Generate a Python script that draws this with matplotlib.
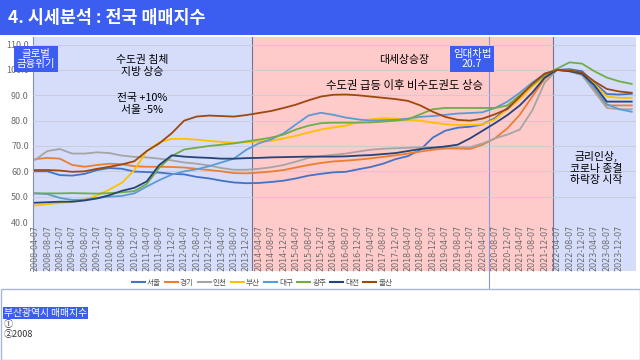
import matplotlib
matplotlib.use('Agg')
import matplotlib.pyplot as plt
from matplotlib.patches import Rectangle
from matplotlib.lines import Line2D
import pandas as pd

plt.rcParams['font.family'] = ['Noto Sans CJK KR', 'DejaVu Sans']

# 4개월 간격 (2008-04-07 ~ 2024-04-07)
dates = pd.date_range('2008-04-01', periods=49, freq='4MS') + pd.Timedelta(days=6)
tick_dates = dates[:48]

seoul = [60.0, 60.0, 58.5, 58.3, 59.0, 60.5, 61.3, 61.0, 59.9, 59.7, 59.5, 59.0, 58.8, 57.8, 57.2, 56.3,
         55.6, 55.3, 55.4, 55.8, 56.3, 57.2, 58.3, 59.0, 59.6, 59.8, 60.8, 61.7, 63.0, 64.8, 66.0, 68.5,
         73.3, 76.0, 77.2, 77.6, 78.5, 81.0, 85.0, 89.0, 94.0, 98.5, 100.0, 100.3, 99.5, 95.0, 90.5, 90.3, 90.6]
gyeonggi = [64.8, 65.3, 65.0, 62.5, 61.8, 62.5, 63.0, 62.8, 62.0, 61.8, 61.8, 61.7, 61.5, 61.0, 60.5, 60.0,
            59.3, 59.2, 59.5, 59.9, 60.5, 61.5, 62.5, 63.3, 63.9, 64.2, 64.6, 65.1, 65.7, 66.3, 67.0, 67.8,
            68.5, 69.0, 69.0, 68.8, 70.5, 73.0, 77.0, 82.3, 89.5, 96.5, 100.0, 99.5, 98.0, 92.0, 86.0, 86.0, 86.0]
incheon = [64.5, 68.0, 68.8, 67.0, 67.0, 67.5, 67.2, 66.2, 65.7, 65.5, 65.0, 64.3, 63.5, 63.0, 62.3, 61.3,
           60.6, 60.6, 61.0, 61.6, 62.5, 63.8, 65.3, 66.0, 66.5, 67.0, 67.8, 68.5, 68.9, 69.1, 69.3, 69.5,
           69.5, 69.5, 69.5, 69.5, 71.0, 73.0, 74.5, 76.5, 84.0, 95.0, 100.0, 99.5, 98.0, 91.5, 85.0, 84.5, 84.5]
busan = [46.5, 47.0, 47.5, 48.0, 48.8, 50.5, 52.8, 55.5, 60.5, 68.0, 71.4, 72.8, 72.8, 72.5, 72.0, 71.6,
         71.3, 71.5, 71.8, 72.0, 73.0, 74.0, 75.3, 76.5, 77.3, 78.0, 79.5, 80.5, 81.0, 80.8, 80.3, 80.0,
         79.2, 78.6, 78.3, 78.3, 78.5, 80.5, 84.5, 88.5, 93.5, 97.5, 100.0, 99.8, 98.8, 94.5, 89.5, 89.0, 89.0]
daegu = [51.3, 51.0, 49.5, 48.7, 48.8, 49.5, 50.0, 50.3, 51.3, 54.0, 56.5, 58.7, 60.0, 60.8, 62.0, 63.5,
         65.0, 68.5, 71.0, 72.6, 75.0, 78.5, 82.0, 83.1, 82.3, 81.2, 80.5, 80.0, 80.2, 80.3, 80.8, 81.5,
         81.8, 82.3, 82.8, 83.0, 83.3, 85.0, 87.5, 91.0, 95.0, 98.5, 100.0, 99.8, 98.5, 93.0, 86.5, 84.5, 83.5]
gwangju = [51.3, 51.3, 51.3, 51.4, 51.3, 51.2, 51.4, 51.7, 52.2, 55.0, 61.4, 66.0, 68.6, 69.3, 70.0, 70.5,
           71.0, 71.8, 72.5, 73.3, 74.5, 76.5, 78.0, 79.0, 79.2, 79.2, 79.2, 79.3, 79.6, 80.0, 80.5, 82.5,
           84.5, 85.0, 85.0, 85.0, 85.0, 85.0, 86.0, 90.0, 94.0, 98.0, 100.5, 103.0, 102.5, 99.5, 97.0, 95.5, 94.5]
daejeon = [47.6, 47.8, 48.0, 48.0, 48.5, 49.3, 50.6, 52.3, 53.5, 56.0, 62.5, 66.3, 65.8, 65.5, 65.3, 65.0,
           65.0, 65.2, 65.3, 65.5, 65.6, 65.7, 65.8, 65.8, 65.8, 65.9, 66.2, 66.4, 66.8, 67.2, 68.0, 68.8,
           69.3, 69.8, 70.5, 73.0, 76.0, 79.0, 82.2, 86.0, 91.0, 97.0, 100.0, 99.5, 98.5, 94.0, 87.5, 87.5, 87.5]
ulsan = [60.5, 60.5, 60.3, 59.8, 60.0, 61.0, 61.8, 62.7, 64.0, 68.0, 71.0, 75.0, 80.0, 81.6, 82.0, 81.8,
         81.6, 82.2, 83.0, 83.8, 85.0, 86.3, 88.0, 89.5, 90.2, 90.3, 90.0, 89.5, 89.0, 88.5, 87.8, 86.0,
         83.5, 81.5, 80.3, 80.0, 80.8, 82.5, 84.6, 89.5, 94.5, 98.5, 100.0, 99.8, 99.0, 95.5, 92.5, 91.5, 91.0]

names = ['서울', '경기', '인천', '부산', '대구', '광주', '대전', '울산']
values = [seoul, gyeonggi, incheon, busan, daegu, gwangju, daejeon, ulsan]
colors = ['#4472C4', '#ED7D31', '#A5A5A5', '#FFC000', '#5B9BD5', '#70AD47', '#264478', '#9E480E']

# 구간 (배경색)
phase_edges = pd.to_datetime(['2008-03-19', '2014-02-04', '2022-02-22', '2024-05-19'])
phase_colors = ['#d5ddfb', '#ffcaca', '#d5ddfb']
law_date = pd.Timestamp('2020-06-13')

BLUE = '#3b5ef0'
W, H = 640, 360

fig = plt.figure(figsize=(6.4, 3.6), dpi=100)
fig.patch.set_facecolor('white')

# 제목 바
fig.patches.append(Rectangle((0, 1 - 35 / H), 1, 35 / H, transform=fig.transFigure,
                             facecolor=BLUE, edgecolor='none'))
fig.text(8 / W, 1 - 18 / H, '4. 시세분석 : 전국 매매지수', color='white', fontsize=12.5,
         fontweight='bold', va='center', ha='left')

# 하단 텍스트 박스
fig.patches.append(Rectangle((0.5 / W, 0.5 / H), (W - 1) / W, (H - 289) / H, transform=fig.transFigure,
                             facecolor='white', edgecolor='#a9b6d8', lw=1))

# 배경
bg = fig.add_axes([33 / W, 1 - 271 / H, 603 / W, 234 / H])
bg.set_xlim(phase_edges[0], phase_edges[-1])
bg.set_ylim(0, 1)
for i in range(3):
    bg.axvspan(phase_edges[i], phase_edges[i + 1], color=phase_colors[i], lw=0)
for d in phase_edges[1:3]:
    bg.axvline(d, color='#6f7396', lw=0.8)
bg.axvline(law_date, ymin=-0.08, ymax=1, color='#8696dc', lw=0.8, clip_on=False)
bg.set_xticks([])
bg.set_yticks([])
for s in ['top', 'right', 'bottom']:
    bg.spines[s].set_visible(False)
bg.spines['left'].set_color('#8a8fb0')
bg.spines['left'].set_linewidth(0.8)

# 본 차트
ax = fig.add_axes([33 / W, 1 - 222 / H, 603 / W, 185 / H], zorder=2)
ax.patch.set_alpha(0)
for n, v, c in zip(names, values, colors):
    ax.plot(dates, v, color=c, lw=1.3, label=n)
ax.set_xlim(phase_edges[0], phase_edges[-1])
ax.set_ylim(40, 113)
ax.set_yticks(range(40, 111, 10))
ax.set_yticklabels(['%.1f' % t for t in range(40, 111, 10)])
ax.set_xticks(tick_dates)
ax.set_xticklabels([d.strftime('%Y-%m-%d') for d in tick_dates], rotation=90, fontsize=5.8,
                   color='#6b6b6b', family='DejaVu Sans')
ax.tick_params(axis='y', labelsize=6.5, labelcolor='#6b6b6b', length=0, pad=3)
ax.tick_params(axis='x', length=0, pad=2)
ax.grid(axis='y', color='#c9c9d6', lw=0.6)
ax.set_axisbelow(True)
for s in ax.spines.values():
    s.set_visible(False)

# 주석
box = dict(boxstyle='square,pad=0.25', fc=BLUE, ec='none')
fig.text(36 / W, 1 - 59 / H, '글로벌\n금융위기', color='white', fontsize=7.5, ha='center',
         va='center', linespacing=1.1, bbox=box, zorder=5)
fig.text(472 / W, 1 - 59 / H, '임대차법\n20.7', color='white', fontsize=7.5, ha='center',
         va='center', linespacing=1.1, bbox=box, zorder=5)
fig.text(142 / W, 1 - 66 / H, '수도권 침체\n지방 상승', fontsize=7.8, ha='center', va='center',
         linespacing=1.2, zorder=5)
fig.text(142 / W, 1 - 104 / H, '전국 +10%\n서울 -5%', fontsize=7.8, ha='center', va='center',
         linespacing=1.2, zorder=5)
fig.text(404 / W, 1 - 60 / H, '대세상승장', fontsize=7.8, ha='center', va='center', zorder=5)
fig.text(404 / W, 1 - 85 / H, '수도권 급등 이후 비수도권도 상승', fontsize=8.2, ha='center',
         va='center', zorder=5)
fig.text(596 / W, 1 - 168 / H, '금리인상,\n코로나 종결\n하락장 시작', fontsize=7.8, ha='center',
         va='center', linespacing=1.15, zorder=5)

# 범례
handles = [Line2D([], [], color=c, lw=1.5) for c in colors]
fig.legend(handles, names, loc='center', bbox_to_anchor=(262 / W, 1 - 283 / H), ncol=8,
           frameon=False, fontsize=5.5, handlelength=1.7, columnspacing=0.5, handletextpad=0.3,
           labelcolor='#555555')

fig.text(4 / W, 1 - 313 / H, '부산광역시 매매지수', color='white', fontsize=7, ha='left', va='center',
         bbox=dict(boxstyle='square,pad=0.1', fc=BLUE, ec='none'))
fig.text(4 / W, 1 - 324 / H, '①', color='#333333', fontsize=6.5, ha='left', va='center')
fig.text(4 / W, 1 - 335 / H, '②2008', color='#333333', fontsize=6.5, ha='left', va='center')

fig.savefig('out.png', dpi=100)
